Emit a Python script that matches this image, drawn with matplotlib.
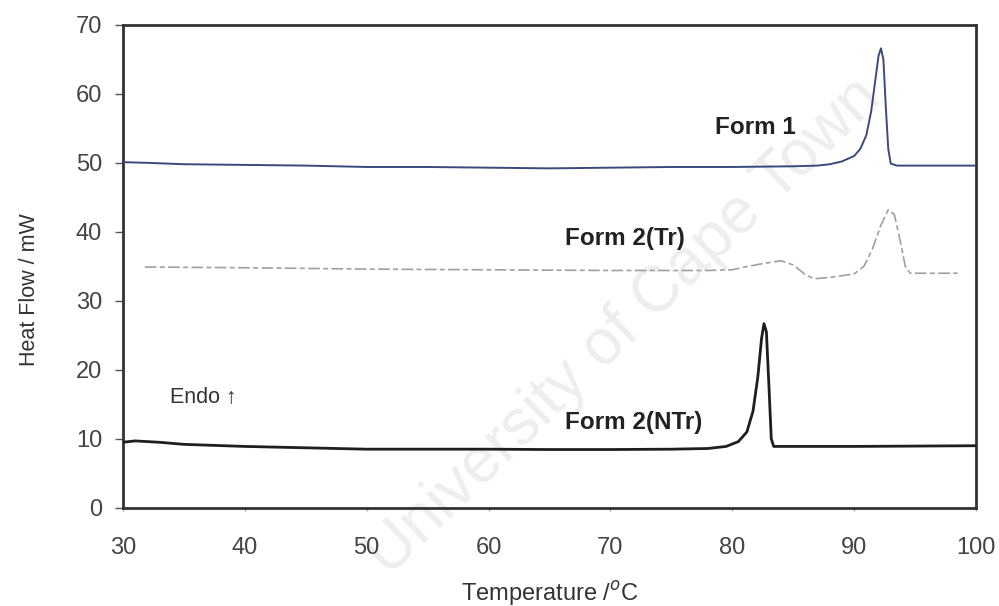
import matplotlib
matplotlib.use("Agg")
import matplotlib.pyplot as plt

plt.rcParams['font.family'] = ['Liberation Sans', 'DejaVu Sans']
plt.rcParams['mathtext.fontset'] = 'custom'
plt.rcParams['mathtext.rm'] = 'Liberation Sans'

# Form 1 curve (Temperature / °C, Heat flow / mW)
form1_x = [30, 32, 35, 40, 45, 50, 55, 60, 65, 70, 75, 80, 85, 87, 88, 89, 90, 90.5,
           91, 91.4, 91.7, 92.0, 92.2, 92.4, 92.6, 92.8, 93.0, 93.5, 95, 100]
form1_y = [50.1, 50.0, 49.8, 49.7, 49.6, 49.4, 49.4, 49.3, 49.2, 49.3, 49.4, 49.4, 49.5,
           49.6, 49.8, 50.2, 51.0, 52.0, 54.0, 57.5, 61.5, 65.5, 66.6, 65.0, 58.0, 52.0,
           49.9, 49.6, 49.6, 49.6]

# Form 2 (Tr) curve
form2tr_x = [31.8, 40, 50, 60, 70, 78, 80, 81, 82.5, 84, 85, 86, 86.7, 88, 90, 90.8,
             91.5, 92.2, 92.8, 93.3, 93.8, 94.2, 94.6, 96, 98.5]
form2tr_y = [34.9, 34.8, 34.6, 34.5, 34.4, 34.4, 34.5, 34.9, 35.4, 35.8, 35.2, 33.8,
             33.2, 33.4, 33.9, 35.0, 37.5, 41.0, 43.2, 42.5, 38.5, 35.0, 34.0, 34.0, 34.0]

# Form 2 (NTr) curve
form2ntr_x = [30, 31, 33, 35, 40, 45, 50, 55, 60, 65, 70, 75, 78, 79.5, 80.5, 81.2,
              81.7, 82.1, 82.4, 82.6, 82.8, 83.0, 83.2, 83.4, 85, 90, 100]
form2ntr_y = [9.5, 9.7, 9.5, 9.2, 8.9, 8.7, 8.5, 8.5, 8.5, 8.45, 8.45, 8.5, 8.6, 8.9,
              9.6, 11.0, 14.0, 19.0, 24.5, 26.7, 25.5, 18.0, 10.0, 8.9, 8.9, 8.9, 9.0]

x_ticks = [30, 40, 50, 60, 70, 80, 90, 100]
y_ticks = [0, 10, 20, 30, 40, 50, 60, 70]

fig = plt.figure(figsize=(9.99, 6.06), dpi=100)
ax = fig.add_axes([0.123, 0.162, 0.854, 0.797])
ax.set_zorder(2)
ax.set_facecolor('none')

# faint watermark, behind the chart
fig.text(0.625, 0.46, "University of Cape Town", fontsize=46, color='#eeeeee',
         rotation=44, ha='center', va='center', zorder=0)

ax.plot(form1_x, form1_y, color='#3b4a7c', lw=1.4, zorder=3)
ax.plot(form2tr_x, form2tr_y, color='#a0a0a0', lw=1.2, linestyle=(0, (7, 2, 3, 2)), zorder=3)
ax.plot(form2ntr_x, form2ntr_y, color='#1e1e1e', lw=2.0, zorder=3)

ax.set_xlim(30, 100)
ax.set_ylim(0, 70)
ax.set_xticks(x_ticks)
ax.set_yticks(y_ticks)
ax.tick_params(axis='y', direction='out', length=6, width=1, colors='#555555',
               labelsize=17, labelcolor='#444444', pad=9)
ax.tick_params(axis='x', direction='out', length=2, width=1, colors='#aaaaaa',
               labelsize=17, labelcolor='#444444', pad=19)
for s in ax.spines.values():
    s.set_linewidth(2)
    s.set_color('#333333')

ax.set_xlabel("Temperature /$^{o}$C", fontsize=17, color='#333333')
ax.xaxis.set_label_coords(0.5, -0.147)
ax.set_ylabel("Heat Flow / mW", fontsize=15.5, color='#333333')
ax.yaxis.set_label_coords(-0.097, 0.451)

ax.text(78.6, 55.1, "Form 1", fontsize=17.5, fontweight='bold', color='#222222', va='center')
ax.text(66.3, 39.0, "Form 2(Tr)", fontsize=17.5, fontweight='bold', color='#222222', va='center')
ax.text(66.3, 12.4, "Form 2(NTr)", fontsize=17.5, fontweight='bold', color='#222222', va='center')
ax.text(33.9, 16.0, "Endo \u2191", fontsize=15.5, color='#333333', va='center')

fig.savefig("out.png", dpi=100)
